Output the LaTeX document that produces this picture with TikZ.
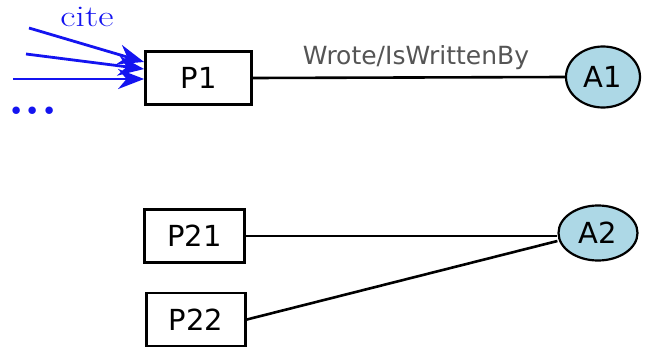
\documentclass[tikz,border=0pt]{standalone}
\usepackage{fontspec}
\newfontfamily\dvsans{DejaVu Sans}
\usetikzlibrary{arrows.meta,shapes.geometric}
\definecolor{citeblue}{RGB}{20,20,240}
\definecolor{authfill}{RGB}{173,216,230}
\definecolor{labgray}{RGB}{85,85,85}
\tikzset{
  paper/.style={draw=black,line width=2.8pt,fill=white,minimum width=106pt,minimum height=53pt,inner sep=0pt,font=\dvsans\fontsize{29}{29}\selectfont},
  author/.style={ellipse,draw=black,line width=2.2pt,fill=authfill,inner sep=0pt,font=\dvsans\fontsize{29}{29}\selectfont},
  rel/.style={draw=black,line width=2.6pt},
  citearrow/.style={draw=citeblue,line width=2.8pt,-{Stealth[length=26pt,width=20pt]}}
}
\begin{document}
\begin{tikzpicture}[x=1pt,y=-1pt]
\useasboundingbox (0,0) rectangle (649,348);
\node[paper] (P1) at (198.5,78) {P1};
\node[paper,minimum width=100pt] (P21) at (194.5,236) {P21};
\node[paper,minimum width=99pt] (P22) at (196,319.5) {P22};
\node[author,minimum width=74pt,minimum height=61pt] (A1) at (603,77) {A1};
\node[author,minimum width=79pt,minimum height=55pt] (A2) at (598,233) {A2};
\draw[rel] (P1.east) -- (A1.west);
\draw[rel] (P21.east) -- (P21.east -| A2.west);
\draw[rel] (P22.east) -- ([yshift=-8pt]A2.west);
\node[text=labgray,font=\dvsans\fontsize{25}{25}\selectfont] (lab) at (416,58) {Wrote/IsWrittenBy};
\coordinate (c1) at (29,28);
\coordinate (c2) at (26,54);
\coordinate (c3) at (13,79);
\draw[citearrow] (c1) -- ([yshift=16pt]P1.west);
\draw[citearrow] (c2) -- ([yshift=9pt]P1.west);
\draw[citearrow] (c3) -- ([yshift=-1pt]P1.west);
\node[text=citeblue,font=\fontsize{30}{30}\selectfont,anchor=base,inner sep=0pt] (cite) at (87,27) {\scalebox{1.25}[1]{cite}};
\node[text=citeblue,font=\bfseries\fontsize{52}{52}\selectfont,inner sep=0pt,anchor=base] (dots) at (33,114) {...};
\end{tikzpicture}
\end{document}
